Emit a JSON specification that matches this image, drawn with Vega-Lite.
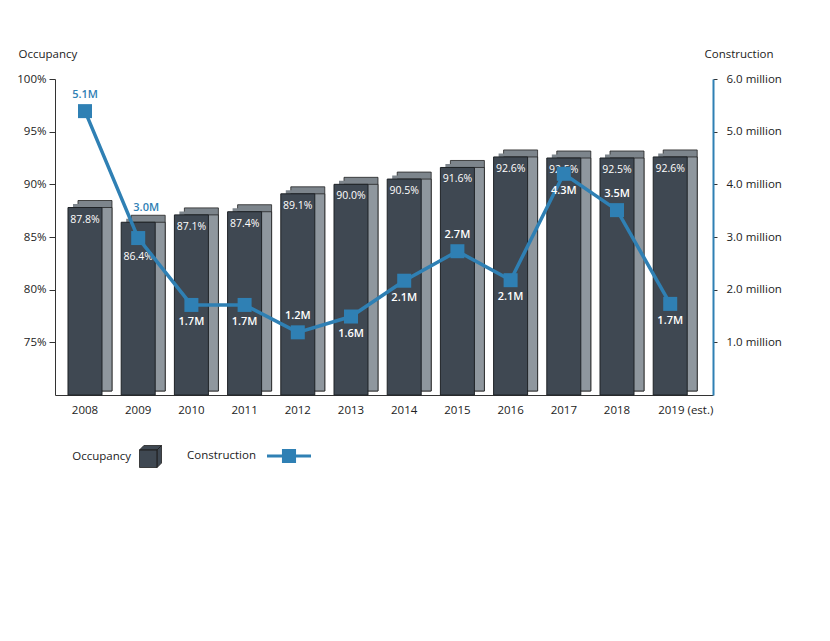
{
  "$schema": "https://vega.github.io/schema/vega-lite/v6.json",
  "autosize": "none",
  "padding": {"left": 55, "top": 79, "right": 117, "bottom": 246},
  "width": 658,
  "height": 316,
  "background": "white",
  "config": {"font": "Open Sans", "view": {"stroke": null}},
  "data": {
    "values": [
      {"year": "2008", "occupancy": 87.8, "occText": "87.8%", "construction": 5.39, "label": "5.1M"},
      {"year": "2009", "occupancy": 86.4, "occText": "86.4%", "construction": 2.98, "label": "3.0M"},
      {"year": "2010", "occupancy": 87.1, "occText": "87.1%", "construction": 1.71, "label": "1.7M"},
      {"year": "2011", "occupancy": 87.4, "occText": "87.4%", "construction": 1.71, "label": "1.7M"},
      {"year": "2012", "occupancy": 89.1, "occText": "89.1%", "construction": 1.19, "label": "1.2M"},
      {"year": "2013", "occupancy": 90.0, "occText": "90.0%", "construction": 1.49, "label": "1.6M"},
      {"year": "2014", "occupancy": 90.5, "occText": "90.5%", "construction": 2.17, "label": "2.1M"},
      {"year": "2015", "occupancy": 91.6, "occText": "91.6%", "construction": 2.73, "label": "2.7M"},
      {"year": "2016", "occupancy": 92.6, "occText": "92.6%", "construction": 2.18, "label": "2.1M"},
      {"year": "2017", "occupancy": 92.5, "occText": "92.5%", "construction": 4.2, "label": "4.3M"},
      {"year": "2018", "occupancy": 92.5, "occText": "92.5%", "construction": 3.51, "label": "3.5M"},
      {"year": "2019 (est.)", "occupancy": 92.6, "occText": "92.6%", "construction": 1.73, "label": "1.7M"}
    ]
  },
  "encoding": {
    "x": {
      "field": "year",
      "type": "nominal",
      "sort": null,
      "scale": {"paddingInner": 0.361, "paddingOuter": 0.3645, "align": 0.335},
      "axis": {
        "title": null,
        "labelAngle": 0,
        "ticks": false,
        "domainColor": "#333333",
        "domainWidth": 1,
        "labelPadding": 9,
        "labelFontSize": 11.5,
        "labelColor": "#222222",
        "labelAlign": {"condition": {"test": "datum.value == '2019 (est.)'", "value": "left"}, "value": "center"},
        "labelOffset": {"condition": {"test": "datum.value == '2019 (est.)'", "value": -12}, "value": 0}
      }
    }
  },
  "layer": [
    {
      "encoding": {
        "y": {
          "field": "occupancy",
          "type": "quantitative",
          "scale": {"domain": [70, 100], "zero": false, "nice": false},
          "axis": {
            "orient": "left",
            "title": "Occupancy",
            "titleAngle": 0,
            "titleAlign": "left",
            "titleBaseline": "middle",
            "titleX": -37,
            "titleY": -25,
            "titleFontWeight": "normal",
            "titleFontSize": 11.5,
            "titleColor": "#222222",
            "values": [75, 80, 85, 90, 95, 100],
            "labelExpr": "datum.value + '%'",
            "grid": false,
            "domainColor": "#333333",
            "tickColor": "#333333",
            "tickSize": 6,
            "labelPadding": 3,
            "labelFontSize": 11.5,
            "labelColor": "#222222"
          }
        }
      },
      "layer": [
        {
          "mark": {"type": "bar", "color": "#7d858c", "stroke": "#222222", "strokeWidth": 0.8, "xOffset": 10, "yOffset": -7, "y2Offset": -4},
          "encoding": {"y2": {"datum": 70}}
        },
        {
          "mark": {"type": "bar", "color": "#7d858c", "xOffset": 5, "yOffset": -3.5, "y2Offset": -4},
          "encoding": {"y2": {"datum": 70}}
        },
        {
          "mark": {"type": "bar", "color": "#8f979e", "stroke": "#222222", "strokeWidth": 0.8, "xOffset": 10, "y2Offset": -4},
          "encoding": {"y2": {"datum": 70}}
        },
        {
          "mark": {"type": "bar", "stroke": "#1e2226", "strokeWidth": 1},
          "encoding": {
            "y2": {"datum": 70},
            "fill": {
              "datum": "Occupancy",
              "type": "nominal",
              "scale": {"range": ["#3f4852"]},
              "legend": {
                "orient": "none",
                "legendX": 84,
                "legendY": 366,
                "title": null,
                "padding": 0,
                "symbolType": "M-1,-0.6H0.6V1H-1Z M-1,-0.6L-0.6,-1H1L0.6,-0.6Z M0.6,-0.6L1,-1V0.6L0.6,1Z",
                "symbolSize": 484,
                "symbolStrokeColor": "#222222",
                "symbolStrokeWidth": 0.8,
                "labelAlign": "right",
                "labelOffset": -31,
                "labelFontSize": 11.5,
                "labelColor": "#222222"
              }
            }
          }
        },
        {
          "transform": [{"filter": "datum.year != '2009'"}],
          "mark": {"type": "text", "color": "white", "fontSize": 10.5, "baseline": "middle", "dy": 12},
          "encoding": {"text": {"field": "occText"}}
        },
        {
          "transform": [{"filter": "datum.year == '2009'"}],
          "mark": {"type": "text", "color": "white", "fontSize": 10.5, "baseline": "middle", "dy": 35},
          "encoding": {"text": {"field": "occText"}}
        }
      ]
    },
    {
      "encoding": {
        "y": {
          "field": "construction",
          "type": "quantitative",
          "scale": {"domain": [0, 6], "nice": false},
          "axis": {
            "orient": "right",
            "title": "Construction",
            "titleAngle": 0,
            "titleAlign": "left",
            "titleBaseline": "middle",
            "titleX": -9,
            "titleY": -25,
            "titleFontWeight": "normal",
            "titleFontSize": 11.5,
            "titleColor": "#222222",
            "values": [1, 2, 3, 4, 5, 6],
            "labelExpr": "format(datum.value, '.1f') + ' million'",
            "grid": false,
            "domainColor": "#2f80b4",
            "domainWidth": 2,
            "tickColor": "#333333",
            "tickSize": 4,
            "labelPadding": 9,
            "labelFontSize": 11.5,
            "labelColor": "#222222"
          }
        }
      },
      "layer": [
        {
          "mark": {"type": "line", "color": "#2f80b4", "strokeWidth": 3.5}
        },
        {
          "mark": {"type": "point", "shape": "square", "filled": true, "size": 196, "opacity": 1},
          "encoding": {
            "color": {
              "datum": "Construction",
              "type": "nominal",
              "scale": {"range": ["#2f80b4"]},
              "legend": {
                "orient": "none",
                "legendX": 212,
                "legendY": 355,
                "title": null,
                "padding": 0,
                "symbolType": "M-1,-0.07H1V0.07H-1Z M-0.32,-0.32H0.32V0.32H-0.32Z",
                "symbolSize": 1936,
                "symbolStrokeWidth": 0,
                "labelAlign": "right",
                "labelOffset": -55,
                "labelFontSize": 11.5,
                "labelColor": "#222222"
              }
            }
          }
        },
        {
          "transform": [{"filter": "datum.year == '2008'"}],
          "mark": {"type": "text", "color": "#2f80b4", "fontSize": 11, "fontWeight": 600, "baseline": "middle", "dy": -16},
          "encoding": {"text": {"field": "label"}}
        },
        {
          "transform": [{"filter": "datum.year == '2009'"}],
          "mark": {"type": "text", "color": "#2f80b4", "fontSize": 11, "fontWeight": 600, "baseline": "middle", "dx": 8, "dy": -30},
          "encoding": {"text": {"field": "label"}}
        },
        {
          "transform": [{"filter": {"field": "year", "oneOf": ["2012", "2015", "2018"]}}],
          "mark": {"type": "text", "color": "white", "fontSize": 11, "fontWeight": 600, "baseline": "middle", "dy": -16},
          "encoding": {"text": {"field": "label"}}
        },
        {
          "transform": [{"filter": {"field": "year", "oneOf": ["2010", "2011", "2013", "2014", "2016", "2017", "2019 (est.)"]}}],
          "mark": {"type": "text", "color": "white", "fontSize": 11, "fontWeight": 600, "baseline": "middle", "dy": 17},
          "encoding": {"text": {"field": "label"}}
        }
      ]
    }
  ],
  "resolve": {"scale": {"y": "independent"}}
}
